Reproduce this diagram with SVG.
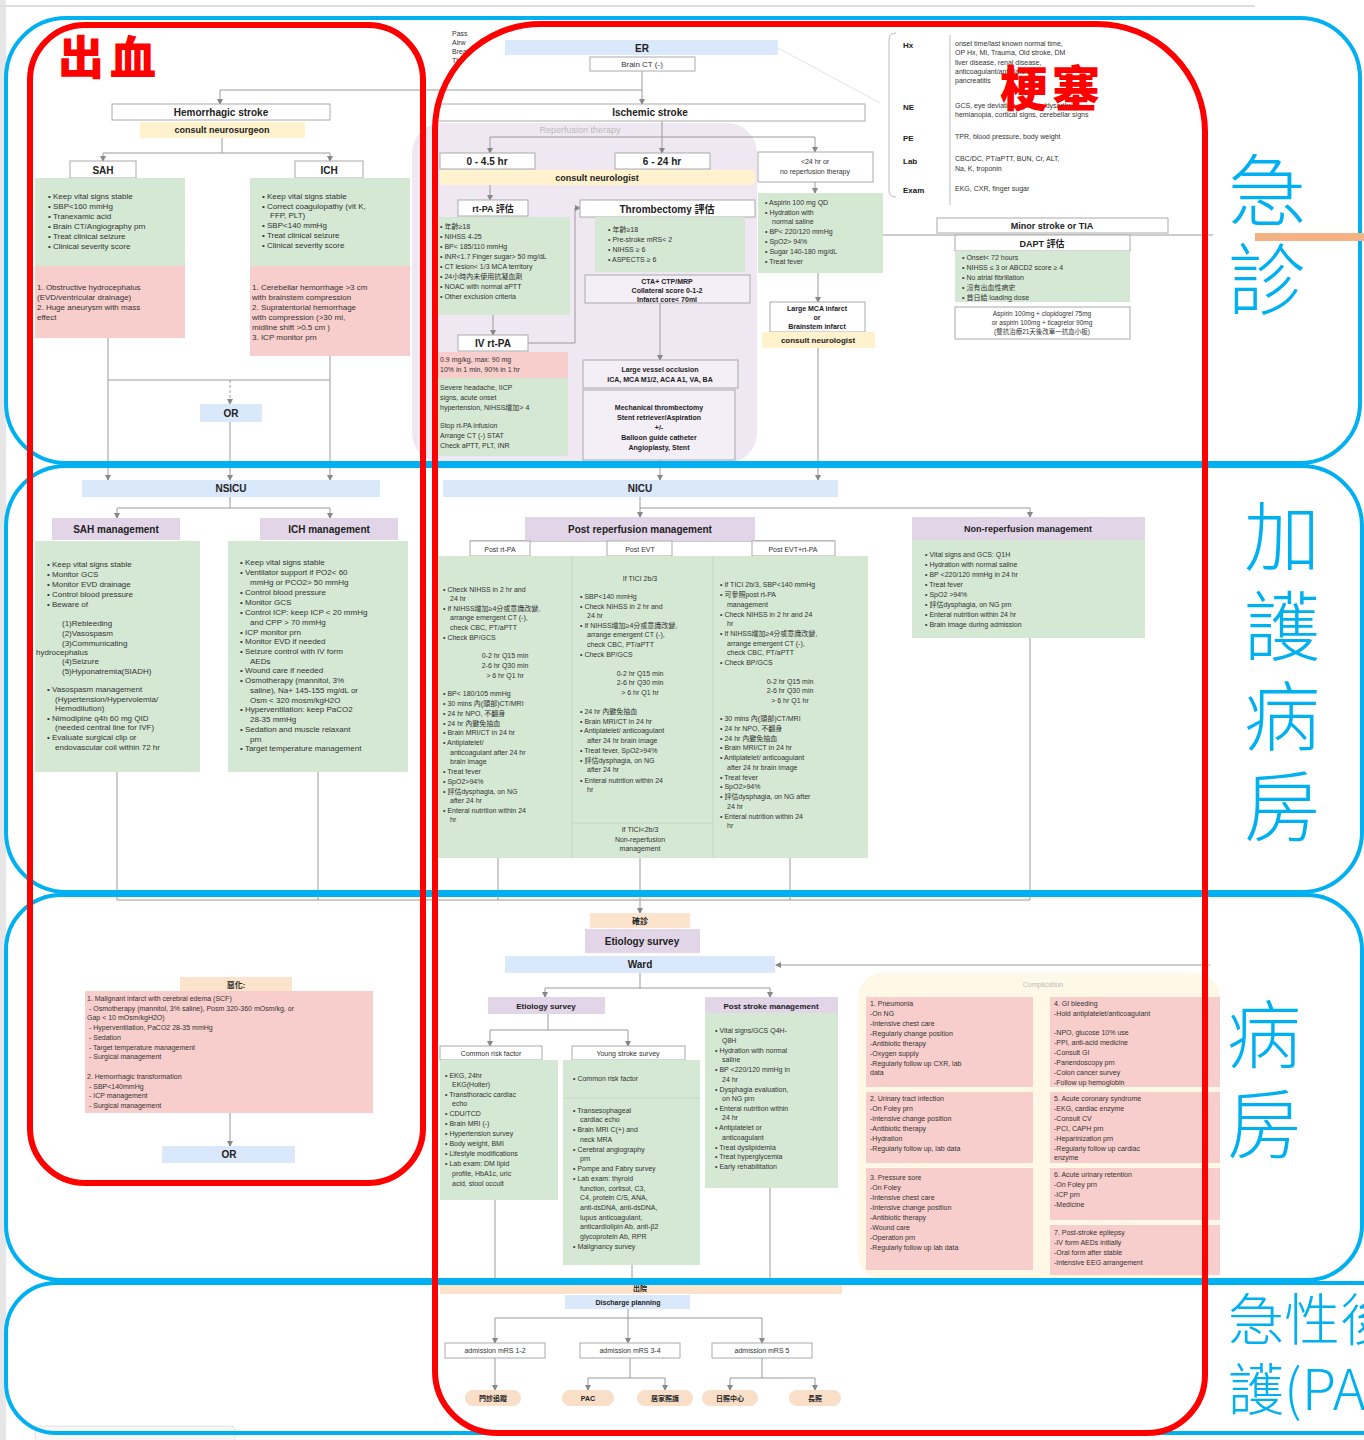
<svg xmlns="http://www.w3.org/2000/svg" width="1364" height="1440" viewBox="0 0 1364 1440">
<defs>
<marker id="ah" markerWidth="6" markerHeight="6" refX="5" refY="3" orient="auto" markerUnits="userSpaceOnUse"><path d="M0,0 L6,3 L0,6 Z" fill="#888"/></marker>
<style>
.t{font-family:"Liberation Sans","Noto Sans CJK TC",sans-serif;font-size:8px;fill:#333}
.s{font-size:7px}
.c{text-anchor:middle}
.b{font-weight:bold;fill:#222}
.hd{font-family:"Liberation Sans","Noto Sans CJK TC",sans-serif;font-size:10px;font-weight:bold;fill:#222;text-anchor:middle}
.gr{fill:#D5E8D4}
.rd{fill:#F8CECC}
.yl{fill:#FFF2CC}
.bl{fill:#DAE8FC}
.pu{fill:#E1D5E7}
.pe{fill:#FCE4CC}
.wb{fill:#fff;stroke:#aaa;stroke-width:1}
.cn path{fill:none;stroke:#9a9a9a;stroke-width:1}
.ar{marker-end:url(#ah)}
.blue{fill:none;stroke:#00B0F0;stroke-width:4}
.red{fill:none;stroke:#FF0000;stroke-width:6}
.lb{font-family:"Noto Sans CJK TC",sans-serif;fill:#00B0F0;font-weight:300;text-anchor:middle}
.rl{font-family:"Noto Sans CJK TC",sans-serif;fill:#FF0000;font-weight:900}
</style>
</defs>
<rect width="1364" height="1440" fill="#fff"/>
<rect x="0" y="0" width="6" height="1440" fill="#e6e6e6"/>
<line x1="0" y1="6" x2="1255" y2="6" stroke="#ddd" stroke-width="2"/>
<rect x="35" y="1426" width="200" height="16" rx="4" fill="#f7f7f7" stroke="#e2e2e2"/>

<!-- reperfusion background panel -->
<rect id="reperfusion-panel" x="412" y="123" width="345" height="340" rx="30" fill="#EFE8F3"/>
<text class="t" x="580" y="133" style="font-size:9px;fill:#bbb" text-anchor="middle">Reperfusion therapy</text>

<!-- connectors -->
<g id="connectors" class="cn">
<path class="ar" d="M642,71 V104"/>
<path class="ar" d="M642,90 H220 V104"/>
<path d="M778,48 L880,103" style="stroke:#e4e4e4"/>
<path class="ar" d="M222,138 V153 H103 V161"/>
<path class="ar" d="M222,153 H330 V161"/>
<path class="ar" d="M108,338 V480"/>
<path class="ar" d="M330,356 V480"/>
<path d="M108,380 H330"/>
<path class="ar" d="M230,380 V404" style="stroke-dasharray:3,2"/>
<path class="ar" d="M230,422 V480"/>
<path class="ar" d="M230,497 V508 H117 V518"/>
<path class="ar" d="M230,508 H330 V518"/>
<path d="M117,772 V900"/>
<path d="M318,772 V900"/>
<path d="M117,900 H1030"/>
<path class="ar" d="M662,121 V137 H490 V153"/>
<path class="ar" d="M662,137 H815 V152"/>
<path class="ar" d="M662,137 V153"/>
<path class="ar" d="M490,185 V200"/>
<path class="ar" d="M493,315 V335"/>
<path class="ar" d="M528,343 H575 V208 H580"/>
<path class="ar" d="M660,303 V360"/>
<path class="ar" d="M815,182 V193"/>
<path class="ar" d="M818,273 V302"/>
<path class="ar" d="M818,348 V480"/>
<path class="ar" d="M660,460 V480"/>
<path d="M880,235 H1213"/>
<path class="ar" d="M640,497 V517"/>
<path class="ar" d="M640,508 H1030 V517"/>
<path d="M470,541 H835"/>
<path d="M498,858 V900"/>
<path d="M790,858 V900"/>
<path d="M1030,638 V900"/>
<path class="ar" d="M640,858 V913"/>
<path class="ar" d="M1210,965 H776"/>
<path class="ar" d="M640,973 V988 H545 V997"/>
<path class="ar" d="M640,988 H770 V997"/>
<path class="ar" d="M548,1014 V1030 H490 V1046"/>
<path class="ar" d="M548,1030 H628 V1046"/>
<path class="ar" d="M495,1200 V1283"/>
<path class="ar" d="M632,1265 V1283"/>
<path class="ar" d="M770,1188 V1283"/>
<path class="ar" d="M230,1113 V1146"/>
<path class="ar" d="M628,1309 V1318 H495 V1343"/>
<path class="ar" d="M628,1318 V1343"/>
<path class="ar" d="M628,1318 H762 V1343"/>
<path class="ar" d="M495,1358 V1390"/>
<path class="ar" d="M630,1358 V1378 H588 V1390"/>
<path class="ar" d="M630,1378 H665 V1390"/>
<path class="ar" d="M762,1358 V1378 H730 V1390"/>
<path class="ar" d="M762,1378 H815 V1390"/>
</g>

<!-- legend fragment -->
<g id="legend"><text class="t s" x="452" y="36"><tspan x="452">Pass</tspan><tspan x="452" dy="9">Airw</tspan><tspan x="452" dy="9">Breat</tspan><tspan x="452" dy="9">Thr</tspan></text></g>

<g id="er"><rect class="bl" x="505" y="40" width="273" height="15"/><text class="hd" x="642" y="52">ER</text></g>
<g id="brain-ct"><rect class="wb" x="590" y="57" width="105" height="14"/><text class="t c" x="642" y="67">Brain CT (-)</text></g>

<!-- hemorrhagic -->
<g id="hemorrhagic-stroke"><rect class="wb" x="112" y="104" width="218" height="16"/><text class="hd" x="221" y="116">Hemorrhagic stroke</text></g>
<g id="consult-neurosurgeon"><rect class="yl" x="140" y="122" width="165" height="16"/><text class="hd" style="font-size:9px" x="222" y="133">consult neurosurgeon</text></g>
<g id="sah"><rect class="wb" x="70" y="161" width="66" height="17"/><text class="hd" x="103" y="174">SAH</text></g>
<g id="ich"><rect class="wb" x="295" y="161" width="68" height="17"/><text class="hd" x="329" y="174">ICH</text></g>
<g id="sah-er"><rect class="gr" x="35" y="178" width="150" height="88"/>
<text class="t" x="48" y="199"><tspan x="48">• Keep vital signs stable</tspan><tspan x="48" dy="10">• SBP&lt;160 mmHg</tspan><tspan x="48" dy="10">• Tranexamic acid</tspan><tspan x="48" dy="10">• Brain CT/Angiography prn</tspan><tspan x="48" dy="10">• Treat clinical seizure</tspan><tspan x="48" dy="10">• Clinical severity score</tspan></text></g>
<g id="sah-surgery"><rect class="rd" x="35" y="266" width="150" height="72"/>
<text class="t" x="37" y="290"><tspan x="37">1. Obstructive hydrocephalus</tspan><tspan x="37" dy="10">(EVD/ventricular drainage)</tspan><tspan x="37" dy="10">2. Huge aneurysm with mass</tspan><tspan x="37" dy="10">effect</tspan></text></g>
<g id="ich-er"><rect class="gr" x="250" y="178" width="160" height="88"/>
<text class="t" x="262" y="199"><tspan x="262">• Keep vital signs stable</tspan><tspan x="262" dy="10">• Correct coagulopathy (vit K,</tspan><tspan x="270" dy="9">FFP, PLT)</tspan><tspan x="262" dy="10">• SBP&lt;140 mmHg</tspan><tspan x="262" dy="10">• Treat clinical seizure</tspan><tspan x="262" dy="10">• Clinical severity score</tspan></text></g>
<g id="ich-surgery"><rect class="rd" x="250" y="266" width="160" height="90"/>
<text class="t" x="252" y="290"><tspan x="252">1. Cerebellar hemorrhage &gt;3 cm</tspan><tspan x="252" dy="10">with brainstem compression</tspan><tspan x="252" dy="10">2. Supratentorial hemorrhage</tspan><tspan x="252" dy="10">with compression (&gt;30 ml,</tspan><tspan x="252" dy="10">midline shift &gt;0.5 cm )</tspan><tspan x="252" dy="10">3. ICP monitor prn</tspan></text></g>
<g id="or-1"><rect class="bl" x="200" y="404" width="62" height="18"/><text class="hd" x="231" y="417">OR</text></g>
<g id="nsicu"><rect class="bl" x="82" y="480" width="298" height="17"/><text class="hd" x="231" y="492">NSICU</text></g>
<g id="sah-management"><rect class="pu" x="52" y="518" width="128" height="22"/><text class="hd" x="116" y="533">SAH management</text></g>
<g id="ich-management"><rect class="pu" x="260" y="518" width="138" height="22"/><text class="hd" x="329" y="533">ICH management</text></g>
<g id="sah-icu"><rect class="gr" x="35" y="541" width="165" height="231"/>
<text class="t" x="47" y="567"><tspan x="47">• Keep vital signs stable</tspan><tspan x="47" dy="10">• Monitor GCS</tspan><tspan x="47" dy="10">• Monitor EVD drainage</tspan><tspan x="47" dy="10">• Control blood pressure</tspan><tspan x="47" dy="10">• Beware of</tspan><tspan x="62" dy="19">(1)Rebleeding</tspan><tspan x="62" dy="10">(2)Vasospasm</tspan><tspan x="62" dy="10">(3)Communicating</tspan><tspan x="36" dy="9">hydrocephalus</tspan><tspan x="62" dy="9">(4)Seizure</tspan><tspan x="62" dy="10">(5)Hyponatremia(SIADH)</tspan><tspan x="47" dy="18">• Vasospasm management</tspan><tspan x="55" dy="10">(Hypertension/Hypervolemia/</tspan><tspan x="55" dy="9">Hemodilution)</tspan><tspan x="47" dy="10">• Nimodipine q4h 60 mg QID</tspan><tspan x="55" dy="9">(needed central line for IVF)</tspan><tspan x="47" dy="10">• Evaluate surgical clip or</tspan><tspan x="55" dy="10">endovascular coil within 72 hr</tspan></text></g>
<g id="ich-icu"><rect class="gr" x="228" y="541" width="180" height="231"/>
<text class="t" x="240" y="565"><tspan x="240">• Keep vital signs stable</tspan><tspan x="240" dy="10">• Ventilator support if PO2&lt; 60</tspan><tspan x="250" dy="10">mmHg or PCO2&gt; 50 mmHg</tspan><tspan x="240" dy="10">• Control blood pressure</tspan><tspan x="240" dy="10">• Monitor GCS</tspan><tspan x="240" dy="10">• Control ICP: keep ICP &lt; 20 mmHg</tspan><tspan x="250" dy="10">and CPP &gt; 70 mmHg</tspan><tspan x="240" dy="10">• ICP monitor prn</tspan><tspan x="240" dy="9">• Monitor EVD if needed</tspan><tspan x="240" dy="10">• Seizure control with IV form</tspan><tspan x="250" dy="10">AEDs</tspan><tspan x="240" dy="9">• Wound care if needed</tspan><tspan x="240" dy="10">• Osmotherapy (mannitol, 3%</tspan><tspan x="250" dy="10">saline), Na+ 145-155 mg/dL or</tspan><tspan x="250" dy="10">Osm &lt; 320 mosm/kgH2O</tspan><tspan x="240" dy="9">• Hyperventilation: keep PaCO2</tspan><tspan x="250" dy="10">28-35 mmHg</tspan><tspan x="240" dy="10">• Sedation and muscle relaxant</tspan><tspan x="250" dy="10">prn</tspan><tspan x="240" dy="9">• Target temperature management</tspan></text></g>

<!-- ischemic ER -->
<g id="ischemic-stroke"><rect class="wb" x="435" y="104" width="430" height="17"/><text class="hd" x="650" y="116">Ischemic stroke</text></g>
<g id="t0-45"><rect class="wb" x="440" y="153" width="95" height="16"/><text class="hd" x="487" y="165">0 - 4.5 hr</text></g>
<g id="t6-24"><rect class="wb" x="615" y="153" width="95" height="16"/><text class="hd" x="662" y="165">6 - 24 hr</text></g>
<g id="t-no-reperfusion"><rect class="wb" x="758" y="152" width="115" height="30"/><text class="t s c" x="815" y="164"><tspan x="815">&lt;24 hr or</tspan><tspan x="815" dy="10">no reperfusion therapy</tspan></text></g>
<g id="consult-neurologist-1"><rect class="yl" x="440" y="170" width="315" height="15"/><text class="hd" style="font-size:9px" x="597" y="181">consult neurologist</text></g>
<g id="rtpa-eval"><rect class="wb" x="458" y="200" width="70" height="16"/><text class="hd" style="font-size:9px" x="493" y="212">rt-PA 評估</text></g>
<g id="rtpa-criteria"><rect class="gr" x="435" y="217" width="135" height="98"/>
<text class="t s" x="440" y="229"><tspan x="440">• 年齡≥18</tspan><tspan x="440" dy="10">• NIHSS 4-25</tspan><tspan x="440" dy="10">• BP&lt; 185/110 mmHg</tspan><tspan x="440" dy="10">• INR&lt;1.7 Finger sugar&gt; 50 mg/dL</tspan><tspan x="440" dy="10">• CT lesion&lt; 1/3 MCA territory</tspan><tspan x="440" dy="10">• 24小時內未使用抗凝血劑</tspan><tspan x="440" dy="10">• NOAC with normal aPTT</tspan><tspan x="440" dy="10">• Other exclusion criteria</tspan></text></g>
<g id="iv-rtpa"><rect class="wb" x="458" y="335" width="70" height="16"/><text class="hd" x="493" y="347">IV rt-PA</text></g>
<g id="rtpa-dose"><rect class="rd" x="435" y="352" width="133" height="26"/><text class="t s" x="440" y="362"><tspan x="440">0.9 mg/kg, max: 90 mg</tspan><tspan x="440" dy="10">10% in 1 min, 90% in 1 hr</tspan></text></g>
<g id="rtpa-stop"><rect class="gr" x="435" y="378" width="133" height="78"/>
<text class="t s" x="440" y="390"><tspan x="440">Severe headache, IICP</tspan><tspan x="440" dy="10">signs, acute onset</tspan><tspan x="440" dy="10">hypertension, NIHSS增加&gt; 4</tspan><tspan x="440" dy="18">Stop rt-PA infusion</tspan><tspan x="440" dy="10">Arrange CT (-) STAT</tspan><tspan x="440" dy="10">Check aPTT, PLT, INR</tspan></text></g>
<g id="thrombectomy-eval"><rect class="wb" x="580" y="200" width="175" height="17"/><text class="hd" x="667" y="213">Thrombectomy 評估</text></g>
<g id="thrombectomy-criteria"><rect class="gr" x="595" y="217" width="150" height="55"/>
<text class="t s" x="608" y="232"><tspan x="608">• 年齡≥18</tspan><tspan x="608" dy="10">• Pre-stroke mRS&lt; 2</tspan><tspan x="608" dy="10">• NIHSS ≥ 6</tspan><tspan x="608" dy="10">• ASPECTS ≥ 6</tspan></text></g>
<g id="cta-ctp"><rect class="wb" x="585" y="275" width="165" height="28" style="fill:#f4eef7"/><text class="t s c b" x="667" y="284"><tspan x="667">CTA+ CTP/MRP</tspan><tspan x="667" dy="9">Collateral score 0-1-2</tspan><tspan x="667" dy="9">Infarct core&lt; 70ml</tspan></text></g>
<g id="lvo"><rect class="wb" x="583" y="360" width="155" height="28" style="fill:#f4eef7"/><text class="t s c b" x="660" y="372"><tspan x="660">Large vessel occlusion</tspan><tspan x="660" dy="10">ICA, MCA M1/2, ACA A1, VA, BA</tspan></text></g>
<g id="mech-thrombectomy"><rect class="wb" x="583" y="390" width="152" height="70" style="fill:#f4eef7"/><text class="t s c b" x="659" y="410"><tspan x="659">Mechanical thrombectomy</tspan><tspan x="659" dy="10">Stent retriever/Aspiration</tspan><tspan x="659" dy="10">+/-</tspan><tspan x="659" dy="10">Balloon guide catheter</tspan><tspan x="659" dy="10">Angioplasty, Stent</tspan></text></g>
<g id="no-reperfusion-er"><rect class="gr" x="758" y="193" width="125" height="80"/>
<text class="t s" x="765" y="205"><tspan x="765">• Aspirin 100 mg QD</tspan><tspan x="765" dy="10">• Hydration with</tspan><tspan x="772" dy="9">normal saline</tspan><tspan x="765" dy="10">• BP&lt; 220/120 mmHg</tspan><tspan x="765" dy="10">• SpO2&gt; 94%</tspan><tspan x="765" dy="10">• Sugar 140-180 mg/dL</tspan><tspan x="765" dy="10">• Treat fever</tspan></text></g>
<g id="large-mca"><rect class="wb" x="770" y="302" width="95" height="30"/><text class="t s c b" x="817" y="311"><tspan x="817">Large MCA infarct</tspan><tspan x="817" dy="9">or</tspan><tspan x="817" dy="9">Brainstem infarct</tspan></text></g>
<g id="consult-neurologist-2"><rect class="yl" x="762" y="332" width="113" height="16"/><text class="hd" style="font-size:8px" x="818" y="343">consult neurologist</text></g>

<!-- Hx table -->
<g id="hx-table">
<path d="M896,33 Q889,33 889,40 V190 Q889,197 896,197" fill="none" stroke="#bbb"/>
<line x1="950" y1="35" x2="950" y2="205" stroke="#bbb"/>
<text class="t b" x="903" y="48">Hx</text><text class="t b" x="903" y="110">NE</text><text class="t b" x="903" y="141">PE</text><text class="t b" x="903" y="164">Lab</text><text class="t b" x="903" y="193">Exam</text>
<text class="t s" x="955" y="46"><tspan x="955">onset time/last known normal time,</tspan><tspan x="955" dy="9">OP Hx, MI, Trauma, Old stroke, DM</tspan><tspan x="955" dy="10">liver disease, renal disease,</tspan><tspan x="955" dy="9">anticoagulant/antiplatelet</tspan><tspan x="955" dy="9">pancreatitis</tspan></text>
<text class="t s" x="955" y="108"><tspan x="955">GCS, eye deviation, aphasia/dysarthria</tspan><tspan x="955" dy="9">hemianopia, cortical signs, cerebellar signs</tspan></text>
<text class="t s" x="955" y="139">TPR, blood pressure, body weight</text>
<text class="t s" x="955" y="161"><tspan x="955">CBC/DC, PT/aPTT, BUN, Cr, ALT,</tspan><tspan x="955" dy="10">Na, K, troponin</tspan></text>
<text class="t s" x="955" y="191">EKG, CXR, finger sugar</text>
</g>
<g id="minor-stroke"><rect class="wb" x="937" y="218" width="231" height="15"/><text class="hd" style="font-size:9px" x="1052" y="229">Minor stroke or TIA</text></g>
<g id="dapt"><rect class="wb" x="955" y="235" width="175" height="16"/><text class="hd" style="font-size:9px" x="1042" y="247">DAPT 評估</text></g>
<g id="dapt-criteria"><rect class="gr" x="955" y="251" width="175" height="51"/>
<text class="t s" x="962" y="260"><tspan x="962">• Onset&lt; 72 hours</tspan><tspan x="962" dy="10">• NIHSS ≤ 3 or ABCD2 score ≥ 4</tspan><tspan x="962" dy="10">• No atrial fibrillation</tspan><tspan x="962" dy="10">• 沒有出血性病史</tspan><tspan x="962" dy="10">• 首日給 loading dose</tspan></text></g>
<g id="dapt-dose"><rect class="wb" x="955" y="307" width="175" height="32"/><text class="t c" style="font-size:6.5px" x="1042" y="316"><tspan x="1042">Aspirin 100mg + clopidogrel 75mg</tspan><tspan x="1042" dy="9">or aspirin 100mg + ticagrelor 90mg</tspan><tspan x="1042" dy="9">(雙抗治療21天後改單一抗血小板)</tspan></text></g>

<!-- ischemic ICU -->
<g id="nicu"><rect class="bl" x="443" y="480" width="395" height="17"/><text class="hd" x="640" y="492">NICU</text></g>
<g id="post-reperfusion"><rect class="pu" x="525" y="517" width="230" height="24"/><text class="hd" x="640" y="533">Post reperfusion management</text></g>
<g id="post-rtpa"><rect class="wb" x="470" y="541" width="60" height="15"/><text class="t s c" x="500" y="552">Post rt-PA</text></g>
<g id="post-evt"><rect class="wb" x="607" y="541" width="65" height="15"/><text class="t s c" x="640" y="552">Post EVT</text></g>
<g id="post-evt-rtpa"><rect class="wb" x="752" y="541" width="83" height="15"/><text class="t s c" x="793" y="552">Post EVT+rt-PA</text></g>
<g id="post-reperfusion-care"><rect class="gr" x="438" y="556" width="430" height="302"/>
<line x1="572" y1="556" x2="572" y2="858" stroke="#c2d8c0"/><line x1="713" y1="556" x2="713" y2="858" stroke="#c2d8c0"/><line x1="572" y1="823" x2="713" y2="823" stroke="#c2d8c0"/>
<text class="t s" x="443" y="592"><tspan x="443">• Check NIHSS in 2 hr and</tspan><tspan x="450" dy="9">24 hr</tspan><tspan x="443" dy="10">• If NIHSS增加≥4分或意識改變,</tspan><tspan x="450" dy="9">arrange emergent CT (-),</tspan><tspan x="450" dy="10">check CBC, PT/aPTT</tspan><tspan x="443" dy="10">• Check BP/GCS</tspan></text>
<text class="t s c" x="505" y="658"><tspan x="505">0-2 hr Q15 min</tspan><tspan x="505" dy="10">2-6 hr Q30 min</tspan><tspan x="505" dy="10">&gt; 6 hr Q1 hr</tspan></text>
<text class="t s" x="443" y="696"><tspan x="443">• BP&lt; 180/105 mmHg</tspan><tspan x="443" dy="10">• 30 mins 內(頭部)CT/MRI</tspan><tspan x="443" dy="10">• 24 hr NPO, 不翻身</tspan><tspan x="443" dy="10">• 24 hr 內避免抽血</tspan><tspan x="443" dy="9">• Brain MRI/CT in 24 hr</tspan><tspan x="443" dy="10">• Antiplatelet/</tspan><tspan x="450" dy="10">anticoagulant after 24 hr</tspan><tspan x="450" dy="9">brain image</tspan><tspan x="443" dy="10">• Treat fever</tspan><tspan x="443" dy="10">• SpO2&gt;94%</tspan><tspan x="443" dy="10">• 評估dysphagia, on NG</tspan><tspan x="450" dy="9">after 24 hr</tspan><tspan x="443" dy="10">• Enteral nutrition within 24</tspan><tspan x="450" dy="9">hr</tspan></text>
<text class="t s c" x="640" y="581">If TICI 2b/3</text>
<text class="t s" x="580" y="599"><tspan x="580">• SBP&lt;140 mmHg</tspan><tspan x="580" dy="10">• Check NIHSS in 2 hr and</tspan><tspan x="587" dy="9">24 hr</tspan><tspan x="580" dy="10">• If NIHSS增加≥4分或意識改變,</tspan><tspan x="587" dy="9">arrange emergent CT (-),</tspan><tspan x="587" dy="10">check CBC, PT/aPTT</tspan><tspan x="580" dy="10">• Check BP/GCS</tspan></text>
<text class="t s c" x="640" y="676"><tspan x="640">0-2 hr Q15 min</tspan><tspan x="640" dy="9">2-6 hr Q30 min</tspan><tspan x="640" dy="10">&gt; 6 hr Q1 hr</tspan></text>
<text class="t s" x="580" y="714"><tspan x="580">• 24 hr 內避免抽血</tspan><tspan x="580" dy="10">• Brain MRI/CT in 24 hr</tspan><tspan x="580" dy="9">• Antiplatelet/ anticoagulant</tspan><tspan x="587" dy="10">after 24 hr brain image</tspan><tspan x="580" dy="10">• Treat fever, SpO2&gt;94%</tspan><tspan x="580" dy="10">• 評估dysphagia, on NG</tspan><tspan x="587" dy="9">after 24 hr</tspan><tspan x="580" dy="11">• Enteral nutrition within 24</tspan><tspan x="587" dy="9">hr</tspan></text>
<text class="t s c" x="640" y="832"><tspan x="640">If TICI&lt;2b/3</tspan><tspan x="640" dy="10">Non-reperfusion</tspan><tspan x="640" dy="9">management</tspan></text>
<text class="t s" x="720" y="587"><tspan x="720">• If TICI 2b/3, SBP&lt;140 mmHg</tspan><tspan x="720" dy="10">• 可參照post rt-PA</tspan><tspan x="727" dy="10">management</tspan><tspan x="720" dy="10">• Check NIHSS in 2 hr and 24</tspan><tspan x="727" dy="9">hr</tspan><tspan x="720" dy="10">• If NIHSS增加≥4分或意識改變,</tspan><tspan x="727" dy="10">arrange emergent CT (-),</tspan><tspan x="727" dy="9">check CBC, PT/aPTT</tspan><tspan x="720" dy="10">• Check BP/GCS</tspan></text>
<text class="t s c" x="790" y="684"><tspan x="790">0-2 hr Q15 min</tspan><tspan x="790" dy="9">2-6 hr Q30 min</tspan><tspan x="790" dy="10">&gt; 6 hr Q1 hr</tspan></text>
<text class="t s" x="720" y="721"><tspan x="720">• 30 mins 內(頭部)CT/MRI</tspan><tspan x="720" dy="10">• 24 hr NPO, 不翻身</tspan><tspan x="720" dy="10">• 24 hr 內避免抽血</tspan><tspan x="720" dy="9">• Brain MRI/CT in 24 hr</tspan><tspan x="720" dy="10">• Antiplatelet/ anticoagulant</tspan><tspan x="727" dy="10">after 24 hr brain image</tspan><tspan x="720" dy="10">• Treat fever</tspan><tspan x="720" dy="9">• SpO2&gt;94%</tspan><tspan x="720" dy="10">• 評估dysphagia, on NG after</tspan><tspan x="727" dy="10">24 hr</tspan><tspan x="720" dy="10">• Enteral nutrition within 24</tspan><tspan x="727" dy="9">hr</tspan></text>
</g>
<g id="non-reperfusion"><rect class="pu" x="912" y="517" width="233" height="23"/><text class="hd" style="font-size:9px" x="1028" y="532">Non-reperfusion management</text>
<rect class="gr" x="912" y="540" width="233" height="98"/>
<text class="t s" x="925" y="557"><tspan x="925">• Vital signs and GCS: Q1H</tspan><tspan x="925" dy="10">• Hydration with normal saline</tspan><tspan x="925" dy="10">• BP &lt;220/120 mmHg in 24 hr</tspan><tspan x="925" dy="10">• Treat fever</tspan><tspan x="925" dy="10">• SpO2 &gt;94%</tspan><tspan x="925" dy="10">• 評估dysphagia, on NG prn</tspan><tspan x="925" dy="10">• Enteral nutrition within 24 hr</tspan><tspan x="925" dy="10">• Brain image during admission</tspan></text></g>

<!-- ward -->
<g id="dx"><rect class="pe" x="590" y="913" width="100" height="15"/><text class="t c b" x="640" y="924">確診</text></g>
<g id="etiology-survey-top"><rect class="pu" x="585" y="929" width="115" height="24"/><text class="hd" x="642" y="945">Etiology survey</text></g>
<g id="ward"><rect class="bl" x="505" y="956" width="270" height="17"/><text class="hd" x="640" y="968">Ward</text></g>
<g id="etiology-survey"><rect class="pu" x="488" y="997" width="117" height="17"/><text class="hd" style="font-size:8px" x="546" y="1009">Etiology survey</text></g>
<g id="post-stroke-management"><rect class="pu" x="705" y="997" width="133" height="17"/><text class="hd" style="font-size:8px" x="771" y="1009">Post stroke management</text></g>
<g id="common-risk"><rect class="wb" x="440" y="1046" width="102" height="14"/><text class="t s c" x="491" y="1056">Common risk factor</text>
<rect class="gr" x="440" y="1060" width="118" height="140"/>
<text class="t s" x="445" y="1078"><tspan x="445">• EKG, 24hr</tspan><tspan x="452" dy="9">EKG(Holter)</tspan><tspan x="445" dy="10">• Transthoracic cardiac</tspan><tspan x="452" dy="9">echo</tspan><tspan x="445" dy="10">• CDU/TCD</tspan><tspan x="445" dy="10">• Brain MRI (-)</tspan><tspan x="445" dy="10">• Hypertension survey</tspan><tspan x="445" dy="10">• Body weight, BMI</tspan><tspan x="445" dy="10">• Lifestyle modifications</tspan><tspan x="445" dy="10">• Lab exam: DM lipid</tspan><tspan x="452" dy="10">profile, HbA1c, uric</tspan><tspan x="452" dy="10">acid, stool occult</tspan></text></g>
<g id="young-stroke"><rect class="wb" x="572" y="1046" width="113" height="14"/><text class="t s c" x="628" y="1056">Young stroke survey</text>
<rect class="gr" x="563" y="1060" width="137" height="205"/><line x1="563" y1="1098" x2="700" y2="1098" stroke="#c2d8c0"/>
<text class="t s" x="573" y="1081">• Common risk factor</text>
<text class="t s" x="573" y="1113"><tspan x="573">• Transesophageal</tspan><tspan x="580" dy="9">cardiac echo</tspan><tspan x="573" dy="10">• Brain MRI C(+) and</tspan><tspan x="580" dy="10">neck MRA</tspan><tspan x="573" dy="10">• Cerebral angiography</tspan><tspan x="580" dy="9">prn</tspan><tspan x="573" dy="10">• Pompe and Fabry survey</tspan><tspan x="573" dy="10">• Lab exam: thyroid</tspan><tspan x="580" dy="10">function, cortisol, C3,</tspan><tspan x="580" dy="9">C4, protein C/S, ANA,</tspan><tspan x="580" dy="10">anti-dsDNA, anti-dsDNA,</tspan><tspan x="580" dy="10">lupus anticoagulant,</tspan><tspan x="580" dy="9">anticardiolipin Ab, anti-β2</tspan><tspan x="580" dy="10">glycoprotein Ab, RPR</tspan><tspan x="573" dy="10">• Malignancy survey</tspan></text></g>
<g id="post-stroke-care"><rect class="gr" x="705" y="1013" width="133" height="175"/>
<text class="t s" x="715" y="1033"><tspan x="715">• Vital signs/GCS Q4H-</tspan><tspan x="722" dy="10">Q8H</tspan><tspan x="715" dy="10">• Hydration with normal</tspan><tspan x="722" dy="9">saline</tspan><tspan x="715" dy="10">• BP &lt;220/120 mmHg in</tspan><tspan x="722" dy="10">24 hr</tspan><tspan x="715" dy="10">• Dysphagia evaluation,</tspan><tspan x="722" dy="9">on NG prn</tspan><tspan x="715" dy="10">• Enteral nutrition within</tspan><tspan x="722" dy="9">24 hr</tspan><tspan x="715" dy="10">• Antiplatelet or</tspan><tspan x="722" dy="10">anticoagulant</tspan><tspan x="715" dy="10">• Treat dyslipidemia</tspan><tspan x="715" dy="9">• Treat hyperglycemia</tspan><tspan x="715" dy="10">• Early rehabilitation</tspan></text></g>
<g id="complications"><rect x="858" y="973" width="362" height="307" rx="25" fill="#FFF8E6"/>
<text class="t s c" x="1043" y="987" style="fill:#bbb">Complication</text>
<rect class="rd" x="866" y="997" width="167" height="90"/><rect class="rd" x="866" y="1092" width="167" height="71"/><rect class="rd" x="866" y="1168" width="167" height="102"/>
<rect class="rd" x="1050" y="997" width="170" height="90"/><rect class="rd" x="1050" y="1092" width="170" height="71"/><rect class="rd" x="1050" y="1168" width="170" height="52"/><rect class="rd" x="1050" y="1225" width="170" height="50"/>
<text class="t s" x="870" y="1006"><tspan x="870">1. Pneumonia</tspan><tspan x="870" dy="10">-On NG</tspan><tspan x="870" dy="10">-Intensive chest care</tspan><tspan x="870" dy="10">-Regularly change position</tspan><tspan x="870" dy="10">-Antibiotic therapy</tspan><tspan x="870" dy="10">-Oxygen supply</tspan><tspan x="870" dy="10">-Regularly follow up CXR, lab</tspan><tspan x="870" dy="9">data</tspan></text>
<text class="t s" x="870" y="1101"><tspan x="870">2. Urinary tract infection</tspan><tspan x="870" dy="10">-On Foley prn</tspan><tspan x="870" dy="10">-Intensive change position</tspan><tspan x="870" dy="10">-Antibiotic therapy</tspan><tspan x="870" dy="10">-Hydration</tspan><tspan x="870" dy="10">-Regularly follow up, lab data</tspan></text>
<text class="t s" x="870" y="1180"><tspan x="870">3. Pressure sore</tspan><tspan x="870" dy="10">-On Foley</tspan><tspan x="870" dy="10">-Intensive chest care</tspan><tspan x="870" dy="10">-Intensive change position</tspan><tspan x="870" dy="10">-Antibiotic therapy</tspan><tspan x="870" dy="10">-Wound care</tspan><tspan x="870" dy="10">-Operation prn</tspan><tspan x="870" dy="10">-Regularly follow up lab data</tspan></text>
<text class="t s" x="1054" y="1006"><tspan x="1054">4. GI bleeding</tspan><tspan x="1054" dy="10">-Hold antiplatelet/anticoagulant</tspan><tspan x="1054" dy="19">-NPO, glucose 10% use</tspan><tspan x="1054" dy="10">-PPI, anti-acid medicine</tspan><tspan x="1054" dy="10">-Consult GI</tspan><tspan x="1054" dy="10">-Panendoscopy prn</tspan><tspan x="1054" dy="10">-Colon cancer survey</tspan><tspan x="1054" dy="10">-Follow up hemoglobin</tspan></text>
<text class="t s" x="1054" y="1101"><tspan x="1054">5. Acute coronary syndrome</tspan><tspan x="1054" dy="10">-EKG, cardiac enzyme</tspan><tspan x="1054" dy="10">-Consult CV</tspan><tspan x="1054" dy="10">-PCI, CAPH prn</tspan><tspan x="1054" dy="10">-Heparinization prn</tspan><tspan x="1054" dy="10">-Regularly follow up cardiac</tspan><tspan x="1054" dy="9">enzyme</tspan></text>
<text class="t s" x="1054" y="1177"><tspan x="1054">6. Acute urinary retention</tspan><tspan x="1054" dy="10">-On Foley prn</tspan><tspan x="1054" dy="10">-ICP prn</tspan><tspan x="1054" dy="10">-Medicine</tspan></text>
<text class="t s" x="1054" y="1235"><tspan x="1054">7. Post-stroke epilepsy</tspan><tspan x="1054" dy="10">-IV form AEDs initially</tspan><tspan x="1054" dy="10">-Oral form after stable</tspan><tspan x="1054" dy="10">-Intensive EEG arrangement</tspan></text>
</g>

<!-- deterioration -->
<g id="deterioration"><rect class="pe" x="180" y="977" width="112" height="14"/><text class="t c b" x="236" y="988">惡化:</text>
<rect class="rd" x="85" y="991" width="288" height="122"/>
<text class="t s" x="87" y="1001"><tspan x="87">1. Malignant infarct with cerebral edema (SCF)</tspan><tspan x="87" dy="10"> - Osmotherapy (mannitol, 3% saline), Posm 320-360 mOsm/kg, or</tspan><tspan x="87" dy="9">Gap &lt; 10 mOsm/kgH2O)</tspan><tspan x="87" dy="10"> - Hyperventilation, PaCO2 28-35 mmHg</tspan><tspan x="87" dy="10"> - Sedation</tspan><tspan x="87" dy="10"> - Target temperature management</tspan><tspan x="87" dy="9"> - Surgical management</tspan><tspan x="87" dy="20">2. Hemorrhagic transformation</tspan><tspan x="87" dy="10"> - SBP&lt;140mmHg</tspan><tspan x="87" dy="9"> - ICP management</tspan><tspan x="87" dy="10"> - Surgical management</tspan></text></g>
<g id="or-2"><rect class="bl" x="162" y="1146" width="133" height="17"/><text class="hd" x="229" y="1158">OR</text></g>

<!-- discharge -->
<g id="discharge"><rect class="pe" x="440" y="1283" width="402" height="11"/><text class="t s c b" x="640" y="1291">出院</text></g>
<g id="discharge-planning"><rect class="bl" x="565" y="1295" width="125" height="14"/><text class="t s c b" x="628" y="1305">Discharge planning</text></g>
<g id="mrs-12"><rect class="wb" x="445" y="1343" width="100" height="15"/><text class="t s c" x="495" y="1353">admission mRS 1-2</text></g>
<g id="mrs-34"><rect class="wb" x="580" y="1343" width="100" height="15"/><text class="t s c" x="630" y="1353">admission mRS 3-4</text></g>
<g id="mrs-5"><rect class="wb" x="712" y="1343" width="100" height="15"/><text class="t s c" x="762" y="1353">admission mRS 5</text></g>
<g id="opd"><rect x="465" y="1390" width="56" height="16" rx="8" fill="#F9DEC8"/><text class="t s c b" x="493" y="1401">門診追蹤</text></g>
<g id="pac"><rect x="562" y="1390" width="52" height="16" rx="8" fill="#F9DEC8"/><text class="t s c b" x="588" y="1401">PAC</text></g>
<g id="home-care"><rect x="637" y="1390" width="56" height="16" rx="8" fill="#F9DEC8"/><text class="t s c b" x="665" y="1401">居家照護</text></g>
<g id="institution"><rect x="702" y="1390" width="56" height="16" rx="8" fill="#F9DEC8"/><text class="t s c b" x="730" y="1401">日照中心</text></g>
<g id="ltc"><rect x="789" y="1390" width="52" height="16" rx="8" fill="#F9DEC8"/><text class="t s c b" x="815" y="1401">長照</text></g>

<!-- phase frames -->
<g id="phase-er"><rect class="blue" x="6" y="18" width="1354" height="445" rx="60"/></g>
<g id="phase-icu"><rect class="blue" x="6" y="466" width="1356" height="426" rx="60"/></g>
<g id="phase-ward"><rect class="blue" x="6" y="895" width="1356" height="385" rx="55"/></g>
<g id="phase-pac"><rect class="blue" x="6" y="1283" width="1420" height="150" rx="50"/></g>
<g id="frame-hemorrhage"><rect class="red" x="30" y="25" width="393" height="1158" rx="55"/></g>
<g id="frame-infarct"><path class="red" d="M435,132 A106,106 0 0 1 541,24 H1097 A108,108 0 0 1 1205,132 V1375 A58,58 0 0 1 1147,1433 H497 A62,62 0 0 1 435,1371 Z"/></g>

<rect x="1255" y="233" width="109" height="8" fill="#F4B183"/>
<text class="rl" x="58" y="74" font-size="46" letter-spacing="6">出血</text>
<text class="rl" x="1000" y="106" font-size="48" letter-spacing="4">梗塞</text>
<text class="lb" x="1267" y="220" font-size="78">急</text>
<text class="lb" x="1267" y="309" font-size="78">診</text>
<text class="lb" x="1282" y="565" font-size="76">加</text>
<text class="lb" x="1282" y="655" font-size="76">護</text>
<text class="lb" x="1282" y="745" font-size="76">病</text>
<text class="lb" x="1282" y="835" font-size="76">房</text>
<text class="lb" x="1264" y="1062" font-size="74">病</text>
<text class="lb" x="1264" y="1152" font-size="74">房</text>
<text class="lb" x="1228" y="1340" font-size="56" style="text-anchor:start">急性後期照</text>
<text class="lb" x="1228" y="1410" font-size="56" style="text-anchor:start">護(PAC)</text>
</svg>
